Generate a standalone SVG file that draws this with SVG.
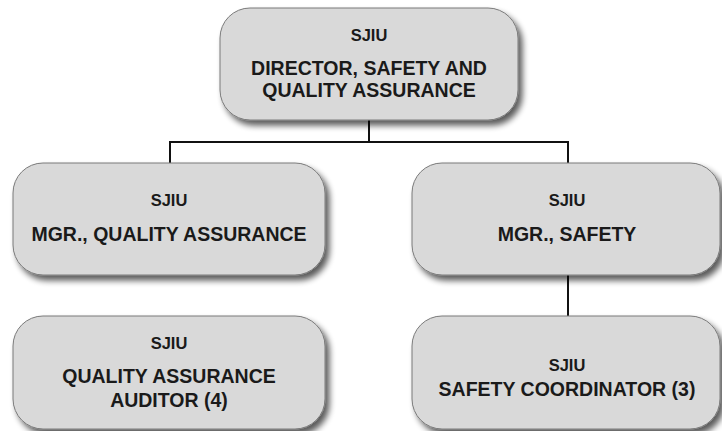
<svg xmlns="http://www.w3.org/2000/svg" width="722" height="431" viewBox="0 0 722 431">
<defs>
<filter id="sh" x="-10%" y="-10%" width="130%" height="140%">
<feGaussianBlur in="SourceAlpha" stdDeviation="3"/>
<feOffset dx="4" dy="5" result="b"/>
<feComponentTransfer><feFuncA type="linear" slope="0.65"/></feComponentTransfer>
<feMerge><feMergeNode/><feMergeNode in="SourceGraphic"/></feMerge>
</filter>
</defs>
<style>
.box{fill:#d9d9d9;stroke:#7a7a7a;stroke-width:1;filter:url(#sh)}
.t{font-family:"Liberation Sans",Arial,sans-serif;font-weight:bold;fill:#1a1a1a;text-anchor:middle}
.s{font-size:16.5px}
.m{font-size:19.5px}
.c{stroke:#111;stroke-width:2;fill:none}
</style>
<rect width="722" height="431" fill="#fff"/>
<g id="connectors">
<path class="c" d="M369 120V142M170 142H568M170 141V163M568 141V163M568 275V316"/>
</g>
<g id="director">
<rect class="box" x="220" y="8" width="298" height="112" rx="30"/>
<text class="t s" x="369" y="41">SJIU</text>
<text class="t m" x="369" y="75">DIRECTOR, SAFETY AND</text>
<text class="t m" x="369" y="97">QUALITY ASSURANCE</text>
</g>
<g id="mgr-qa">
<rect class="box" x="13" y="163" width="312" height="112" rx="30"/>
<text class="t s" x="169" y="206">SJIU</text>
<text class="t m" x="169" y="241">MGR., QUALITY ASSURANCE</text>
</g>
<g id="mgr-safety">
<rect class="box" x="412" y="163" width="308" height="112" rx="30"/>
<text class="t s" x="567" y="206">SJIU</text>
<text class="t m" x="567" y="241">MGR., SAFETY</text>
</g>
<g id="qa-auditor">
<rect class="box" x="13" y="316" width="312" height="113" rx="30"/>
<text class="t s" x="169" y="349">SJIU</text>
<text class="t m" x="169" y="383">QUALITY ASSURANCE</text>
<text class="t m" x="169" y="407">AUDITOR (4)</text>
</g>
<g id="safety-coordinator">
<rect class="box" x="412" y="316" width="308" height="113" rx="30"/>
<text class="t s" x="567" y="371">SJIU</text>
<text class="t m" x="567" y="396">SAFETY COORDINATOR (3)</text>
</g>
</svg>
